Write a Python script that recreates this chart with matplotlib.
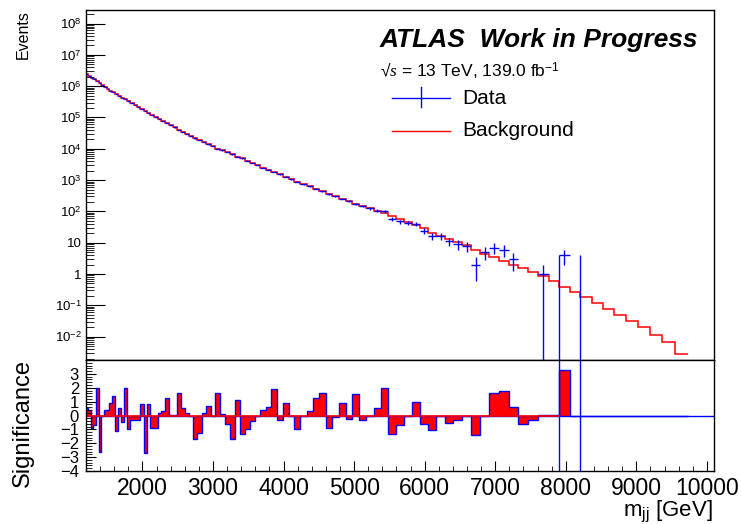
import numpy as np
import matplotlib
matplotlib.use("Agg")
import matplotlib.pyplot as plt
from matplotlib.lines import Line2D
from matplotlib.ticker import FixedLocator, FixedFormatter, MultipleLocator, LogLocator, NullFormatter

plt.rcParams['font.family'] = ['Liberation Sans', 'DejaVu Sans']
plt.rcParams['mathtext.fontset'] = 'custom'
plt.rcParams['mathtext.rm'] = 'Liberation Sans'
plt.rcParams['mathtext.it'] = 'Liberation Serif:italic'
plt.rcParams['mathtext.bf'] = 'Liberation Sans:bold'

# dijet mass bin edges [GeV]
edges = [1200, 1234, 1269, 1305, 1341, 1378, 1416, 1454, 1493, 1533, 1573, 1614, 1656, 1698,
         1741, 1785, 1830, 1875, 1921, 1968, 2016, 2065, 2114, 2164, 2215, 2267, 2320, 2374,
         2429, 2485, 2542, 2600, 2659, 2719, 2780, 2842, 2905, 2969, 3034, 3100, 3167, 3235,
         3305, 3376, 3448, 3521, 3596, 3672, 3749, 3827, 3907, 3988, 4070, 4154, 4239, 4326,
         4414, 4504, 4595, 4688, 4782, 4878, 4975, 5074, 5175, 5277, 5381, 5487, 5595, 5705,
         5817, 5931, 6047, 6165, 6285, 6407, 6531, 6658, 6787, 6918, 7052, 7188, 7326, 7467,
         7610, 7756, 7904, 8055, 8208, 8364, 8523, 8685, 8850, 9019, 9191, 9366, 9544, 9726]

# fitted background, events per bin
background = [2.40e6, 2.14e6, 1.86e6, 1.66e6, 1.45e6, 1.26e6, 1.10e6, 9.3e5, 8.3e5, 7.2e5,
              6.3e5, 5.6e5, 4.9e5, 4.3e5, 3.8e5, 3.3e5, 2.9e5, 2.45e5, 2.14e5, 1.86e5,
              1.58e5, 1.38e5, 1.20e5, 1.05e5, 8.9e4, 7.6e4, 6.6e4, 5.6e4, 4.8e4, 4.1e4,
              3.5e4, 2.95e4, 2.5e4, 2.14e4, 1.86e4, 1.62e4, 1.38e4, 1.20e4, 1.02e4, 8.9e3,
              7.8e3, 6.6e3, 5.6e3, 4.9e3, 4.2e3, 3.55e3, 3.0e3, 2.5e3, 2.14e3, 1.82e3,
              1.51e3, 1.29e3, 1.07e3, 890, 740, 630, 525, 440, 365, 300,
              257, 214, 178, 148, 126, 105, 87, 69, 56, 46,
              36, 29, 21, 16, 12.9, 10.5, 8.3, 5.9, 4.5, 3.5,
              2.6, 2.0, 1.55, 1.15, 0.87, 0.59, 0.39, 0.26, 0.18, 0.117,
              0.078, 0.050, 0.032, 0.020, 0.0117, 0.0066, 0.0028]

# observed events per bin
data = [2.40e6, 2.14e6, 1.86e6, 1.66e6, 1.45e6, 1.26e6, 1.10e6, 9.3e5, 8.3e5, 7.2e5,
        6.3e5, 5.6e5, 4.9e5, 4.3e5, 3.8e5, 3.3e5, 2.9e5, 2.45e5, 2.14e5, 1.86e5,
        1.58e5, 1.38e5, 1.20e5, 1.05e5, 8.9e4, 7.6e4, 6.6e4, 5.6e4, 4.8e4, 4.1e4,
        3.5e4, 2.95e4, 2.5e4, 2.14e4, 1.86e4, 1.62e4, 1.38e4, 1.20e4, 1.02e4, 8.9e3,
        7.8e3, 6.6e3, 5.6e3, 4.9e3, 4.2e3, 3.55e3, 3.0e3, 2.5e3, 2.14e3, 1.82e3,
        1.51e3, 1.29e3, 1.07e3, 890, 740, 630, 525, 440, 365, 300,
        257, 214, 178, 148, 126, 105, 100, 57, 48, 44,
        40, 24, 16, 16, 11, 9, 8, 2, 5, 7,
        6, 3, 0, 0, 1, 0, 4, 0, 0, 0,
        0, 0, 0, 0, 0, 0, 0]

# bin-by-bin significance (lower pad)
significance = [0.55, 0.4, -0.88, -0.7, 2.0, -2.6, 0.0, 0.43, 0.43, 0.9,
                1.4, -1.1, 0.55, -0.5, 2.0, -1.0, -0.3, -0.3, -0.3, 0.8,
                -2.67, 0.8, -0.9, -0.9, 0.2, 0.36, 1.26, 0.07, 0.07, 1.6,
                0.55, 0.2, 0.0, -1.7, -1.24, 0.2, 0.67, 0.0, 1.6, 0.1,
                -0.64, -1.7, 1.14, -1.36, -1.0, -0.4, 0.0, 0.43, 0.6, 1.9,
                -0.29, 0.9, -0.05, -1.0, 0.0, 0.3, 1.26, 1.6, -0.88, -0.12,
                0.9, -0.24, 1.55, -0.36, 0.0, 0.55, 2.0, -1.36, -0.7, 0.0,
                1.0, -0.64, -1.07, 0.0, -0.52, -0.29, 0.0, -1.43, 0.0, 1.6,
                1.74, 0.62, -0.64, -0.29, 0.07, 0.02, 3.3, 0, 0, 0,
                0, 0, 0, 0, 0, 0, 0]

overflow_edges = [7904, 8208]

ytick_vals = [1e-2, 1e-1, 1, 10, 1e2, 1e3, 1e4, 1e5, 1e6, 1e7, 1e8]
ytick_labels = ["$10^{-2}$", "$10^{-1}$", "1", "10", "$10^{2}$", "$10^{3}$",
                "$10^{4}$", "$10^{5}$", "$10^{6}$", "$10^{7}$", "$10^{8}$"]
sig_ticks = [3, 2, 1, 0, -1, -2, -3, -4]

edges = np.array(edges, dtype=float)
bkg = np.array(background)
dat = np.array(data, dtype=float)
sig = np.array(significance)
centres = 0.5 * (edges[1:] + edges[:-1])
halfw = 0.5 * np.diff(edges)

W, H = 741, 524
def fx(px):
    return px / W
def fy(py):
    return 1 - py / H

fig = plt.figure(figsize=(W / 100, H / 100), dpi=100)
ax1 = fig.add_axes([fx(86), fy(360), (714 - 86) / W, (360 - 10) / H])
ax2 = fig.add_axes([fx(86), fy(471), (714 - 86) / W, (471 - 360) / H], sharex=ax1)

# upper pad
ax1.set_yscale('log')
ax1.stairs(bkg, edges, color='red', lw=1.1, baseline=None)
m = dat > 0
err = np.sqrt(dat[m])
lo = np.minimum(err, dat[m] * 0.99999)
ax1.errorbar(centres[m], dat[m], xerr=halfw[m], yerr=[lo, err], fmt='none',
             ecolor='blue', elinewidth=1, capsize=0)
ax1.vlines(overflow_edges, 1e-6, 4, color='blue', lw=1)
ax1.set_xlim(1200, 10100)
ax1.set_ylim(1.8e-3, 2.7e8)
ax1.yaxis.set_major_locator(FixedLocator(ytick_vals))
ax1.yaxis.set_major_formatter(FixedFormatter(ytick_labels))
ax1.yaxis.set_minor_locator(LogLocator(base=10, subs=np.arange(2, 10), numticks=50))
ax1.yaxis.set_minor_formatter(NullFormatter())
ax1.tick_params(axis='y', which='major', direction='in', length=13.5, width=0.8, labelsize=9.5, pad=3)
ax1.tick_params(axis='y', which='minor', direction='in', length=6, width=0.6)
ax1.tick_params(axis='x', which='both', bottom=False, labelbottom=False)

# lower pad
ax2.axhline(0, color='blue', lw=1)
ax2.hlines(0, edges[0], overflow_edges[0], color='red', lw=1.2)
ax2.stairs(sig, edges, fill=True, color='red', baseline=0)
ax2.stairs(sig, edges, color='blue', lw=1, baseline=0)
ax2.vlines(overflow_edges, -5, 5, color='blue', lw=1)
ax2.set_ylim(-4, 4)
ax2.yaxis.set_major_locator(FixedLocator(sig_ticks))
ax2.yaxis.set_minor_locator(MultipleLocator(0.2))
ax2.xaxis.set_major_locator(MultipleLocator(1000))
ax2.xaxis.set_minor_locator(MultipleLocator(200))
ax2.tick_params(axis='y', which='major', direction='in', length=7, width=0.8, labelsize=12, pad=5)
ax2.tick_params(axis='y', which='minor', direction='in', length=4, width=0.6)
ax2.tick_params(axis='x', which='major', direction='in', length=7.5, width=0.8, labelsize=16.5, pad=4)
ax2.tick_params(axis='x', which='minor', direction='in', length=3.5, width=0.6)

for ax in (ax1, ax2):
    for s in ax.spines.values():
        s.set_linewidth(1)
        s.set_color('black')

# labels
fig.text(fx(23), fy(10), "Events", rotation=90, ha='center', va='top', fontsize=11.5)
fig.text(fx(23), fy(423), "Significance", rotation=90, ha='center', va='center', fontsize=17)
fig.text(fx(713), fy(516), r"m$_{\mathregular{jj}}$ [GeV]", ha='right', va='baseline', fontsize=16)

fig.text(fx(380), fy(47), "ATLAS  Work in Progress", fontsize=19, fontweight='bold',
         fontstyle='italic', ha='left', va='baseline')
fig.text(fx(380), fy(77), "\u221A$s$ = 13 TeV, 139.0 fb$^{-1}$", fontsize=12.5,
         ha='left', va='baseline')

# legend
fig.add_artist(Line2D([fx(392), fx(450)], [fy(98), fy(98)], color='blue', lw=1))
fig.add_artist(Line2D([fx(421), fx(421)], [fy(87), fy(107)], color='blue', lw=1))
fig.text(fx(462), fy(98), "Data", fontsize=15, ha='left', va='center')
fig.add_artist(Line2D([fx(392), fx(450)], [fy(131), fy(131)], color='red', lw=1))
fig.text(fx(462), fy(131), "Background", fontsize=15, ha='left', va='center')

fig.savefig("out.png", dpi=100)
